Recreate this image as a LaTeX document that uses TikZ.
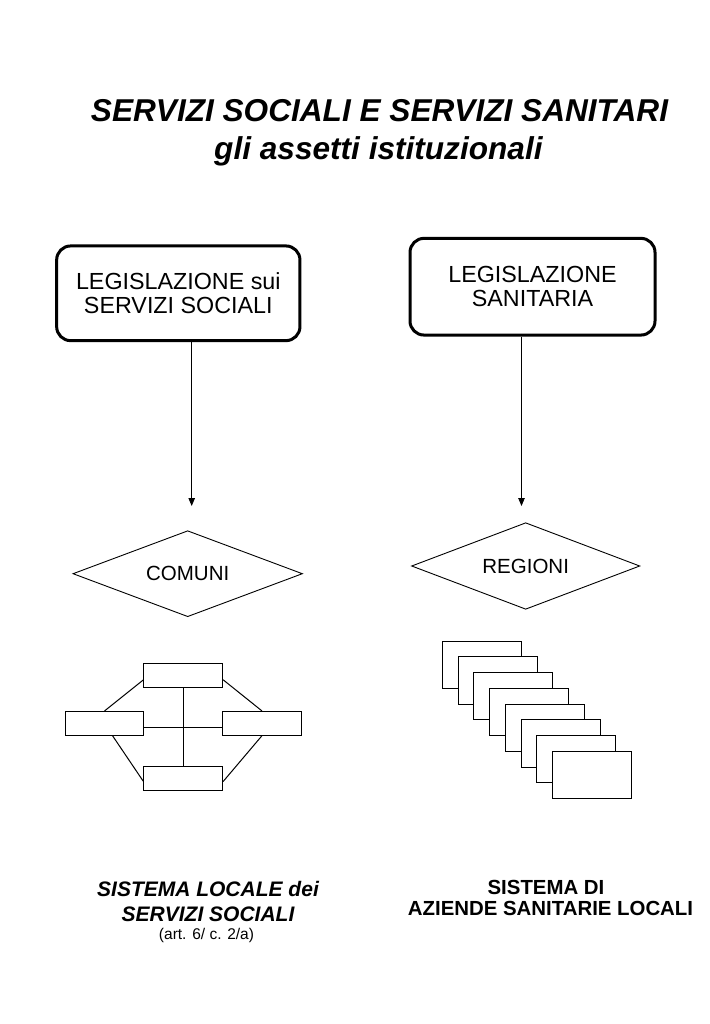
\documentclass[tikz,border=0pt]{standalone}
\usepackage{fontspec}
\setmainfont{Liberation Sans}
\usetikzlibrary{shapes.geometric,arrows.meta}
\begin{document}
\begin{tikzpicture}[x=1pt,y=-1pt,
  legbox/.style={draw,line width=3pt,rounded corners=14pt,align=center,font=\fontsize{23.3}{24.5}\selectfont,inner sep=0pt},
  dia/.style={draw,diamond,line width=0.9pt,shape aspect=2.6,inner sep=0pt,minimum width=229.6pt,minimum height=86pt,font=\fontsize{20.5}{22}\selectfont},
  arr/.style={line width=0.9pt,-{Triangle[length=8pt,width=6.5pt]}},
  netbox/.style={draw,line width=1pt,minimum width=78.7pt,minimum height=23.7pt,inner sep=0pt},
  netline/.style={line width=1pt},
  stackbox/.style={draw,fill=white,line width=1pt,minimum width=79pt,minimum height=47.3pt,inner sep=0pt},
  ttl/.style={anchor=base,inner sep=0pt,font=\fontsize{31.6}{33}\selectfont\bfseries\itshape},
  lbl/.style={anchor=base,inner sep=0pt,font=\fontsize{21}{23}\selectfont\bfseries\itshape},
  lblr/.style={anchor=base,inner sep=0pt,font=\fontsize{20.4}{22}\selectfont\bfseries},
  small/.style={anchor=base,inner sep=0pt,font=\fontsize{15.5}{17}\selectfont}
]
\path[fill=white,use as bounding box] (0,0) rectangle (709,1024);

% Title
\node[ttl] (t1) at (379.5,121.7) {SERVIZI SOCIALI E SERVIZI SANITARI};
\node[ttl] (t2) at (378.4,160) {gli assetti istituzionali};

% Legislation boxes
\node[legbox,minimum width=243.3pt,minimum height=94.7pt] (L1) at (178.3,293.3) {LEGISLAZIONE sui\\SERVIZI SOCIALI};
\node[legbox,minimum width=245pt,minimum height=96.7pt] (L2) at (532.5,286.7) {LEGISLAZIONE\\SANITARIA};

% Arrows
\coordinate (aL) at (191.7,506);
\coordinate (aR) at (521.5,506);
\draw[arr] (L1.south -| aL) -- (aL);
\draw[arr] (L2.south -| aR) -- (aR);

% Diamonds
\node[dia] (D1) at (187.7,573.7) {COMUNI};
\node[dia,minimum width=228.3pt,minimum height=86.6pt] (D2) at (525.7,566) {REGIONI};

% Local network of social services
\node[netbox] (nT) at (183.3,675.8) {};
\node[netbox] (nL) at (104.5,723.3) {};
\node[netbox] (nR) at (262,723.3) {};
\node[netbox] (nB) at (183.3,778.5) {};
\draw[netline] (nT.south) -- (nB.north);
\draw[netline] ([yshift=-4pt]nL.east) -- ([yshift=-4pt]nR.west);
\draw[netline] ([yshift=-4pt]nT.west) -- (nL.north);
\draw[netline] ([yshift=-4pt]nT.east) -- (nR.north);
\draw[netline] ([xshift=8pt]nL.south) -- ([yshift=-3pt]nB.west);
\draw[netline] (nR.south) -- ([yshift=-3pt]nB.east);

% Stack of health agencies
\foreach \i in {0,...,7}
  \node[stackbox] (s\i) at (481.8+15.77*\i,664.7+15.77*\i) {};

% Bottom labels
\node[lbl] (b1) at (208,896.7) {SISTEMA LOCALE dei};
\node[lbl] (b2) at (208,921) {SERVIZI SOCIALI};
\node[small] (b3) at (206.5,939.7) {(art. 6/ c. 2/a)};
\node[lblr] (r1) at (546,894) {SISTEMA DI};
\node[lblr] (r2) at (550.5,915) {AZIENDE SANITARIE LOCALI};
\end{tikzpicture}
\end{document}
